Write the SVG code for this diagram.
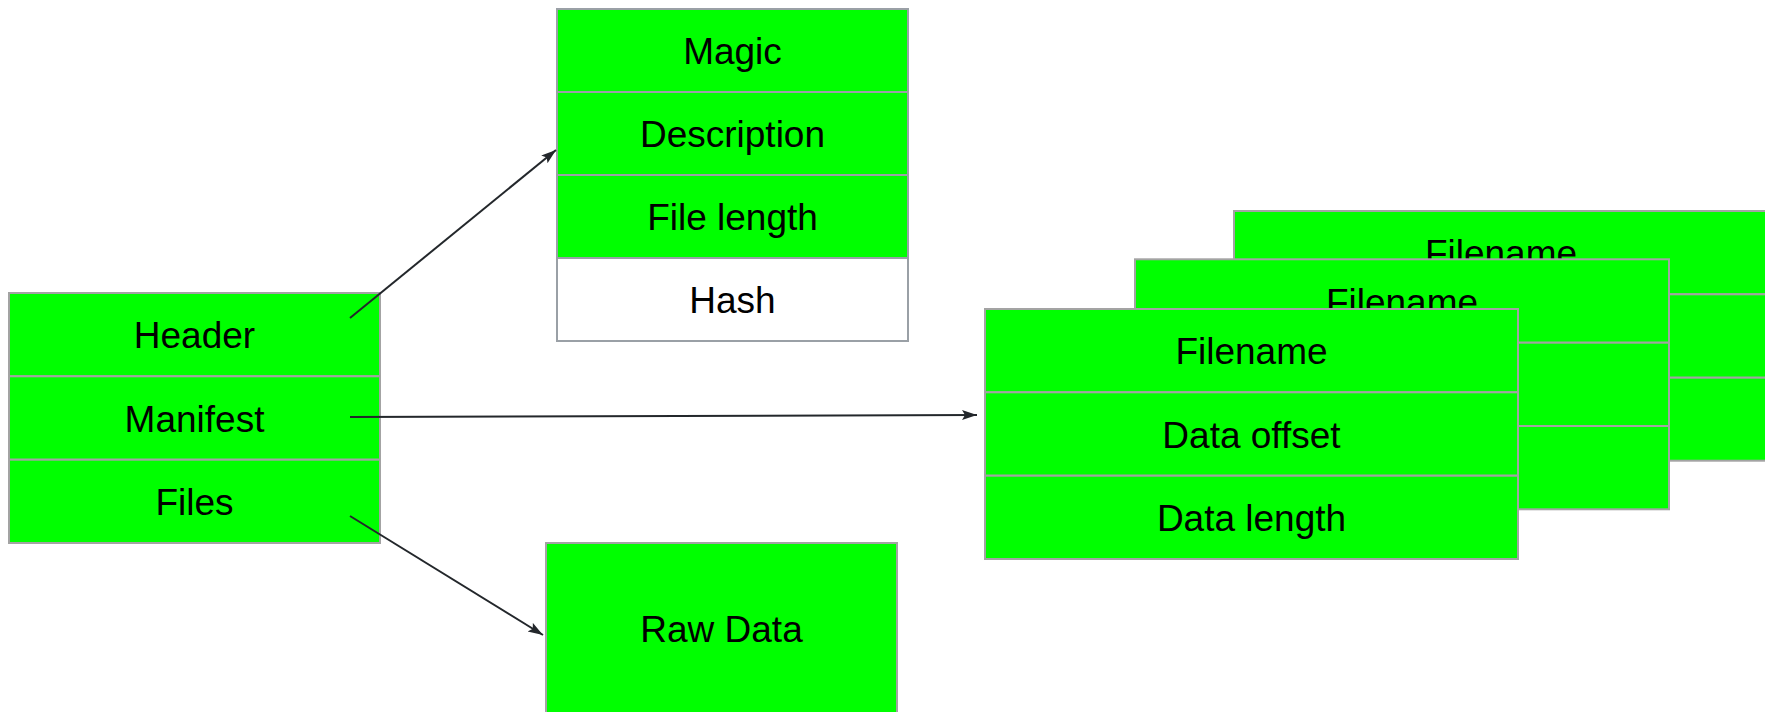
<svg xmlns="http://www.w3.org/2000/svg" width="1765" height="712" viewBox="0 0 1765 712">
  <style>
    .cell { fill: #00ff00; stroke: #a3a3a3; stroke-width: 2; }
    .cell-white { fill: #ffffff; stroke: #9aa0a6; stroke-width: 2; }
    .cell-top { fill: #00ff00; stroke: #9aa0a6; stroke-width: 2; }
    .label { font-family: "Liberation Sans", Arial, sans-serif; font-size: 37px; fill: #000000; text-anchor: middle; }
    .edge { stroke: #23272b; stroke-width: 2; fill: none; marker-end: url(#arrow); }
  </style>
  <defs>
    <marker id="arrow" markerUnits="userSpaceOnUse" markerWidth="16" markerHeight="12" refX="15" refY="5" orient="auto">
      <path d="M0,0 L15,5 L0,10 L3,5 z" fill="#23272b"/>
    </marker>
  </defs>

  <rect width="1765" height="712" fill="#ffffff"/>

  <!-- Container file layout -->
  <g id="container">
    <rect class="cell" x="9" y="293" width="371" height="83.3"/>
    <rect class="cell" x="9" y="376.3" width="371" height="83.4"/>
    <rect class="cell" x="9" y="459.7" width="371" height="83.3"/>
    <text class="label" x="194.5" y="348">Header</text>
    <text class="label" x="194.5" y="431.5">Manifest</text>
    <text class="label" x="194.5" y="514.5">Files</text>
  </g>

  <!-- Header fields -->
  <g id="header">
    <rect class="cell-top" x="557" y="9" width="351" height="83"/>
    <rect class="cell-top" x="557" y="92" width="351" height="83"/>
    <rect class="cell-top" x="557" y="175" width="351" height="83"/>
    <rect class="cell-white" x="557" y="258" width="351" height="83"/>
    <text class="label" x="732.5" y="64">Magic</text>
    <text class="label" x="732.5" y="147">Description</text>
    <text class="label" x="732.5" y="230">File length</text>
    <text class="label" x="732.5" y="313">Hash</text>
  </g>

  <!-- Manifest entries, stacked back to front -->
  <g id="entry-3">
    <rect class="cell" x="1234" y="211" width="534" height="83.3"/>
    <rect class="cell" x="1234" y="294.3" width="534" height="83.4"/>
    <rect class="cell" x="1234" y="377.7" width="534" height="83"/>
    <text class="label" x="1501" y="266">Filename</text>
  </g>

  <g id="entry-2">
    <rect class="cell" x="1135" y="259.3" width="534" height="83.4"/>
    <rect class="cell" x="1135" y="342.7" width="534" height="83.3"/>
    <rect class="cell" x="1135" y="426" width="534" height="83.3"/>
    <text class="label" x="1402" y="314.5">Filename</text>
  </g>

  <g id="entry-1">
    <rect class="cell" x="985" y="309" width="533" height="83.3"/>
    <rect class="cell" x="985" y="392.3" width="533" height="83.4"/>
    <rect class="cell" x="985" y="475.7" width="533" height="83.3"/>
    <text class="label" x="1251.5" y="364">Filename</text>
    <text class="label" x="1251.5" y="447.5">Data offset</text>
    <text class="label" x="1251.5" y="530.5">Data length</text>
  </g>

  <!-- File payload -->
  <g id="raw-data">
    <rect class="cell" x="546" y="543" width="351" height="175"/>
    <text class="label" x="721.5" y="642">Raw Data</text>
  </g>

  <g id="connectors">
    <line class="edge" x1="350" y1="318" x2="556" y2="150"/>
    <line class="edge" x1="350" y1="417" x2="977" y2="415"/>
    <line class="edge" x1="350" y1="516" x2="543" y2="635"/>
  </g>
</svg>
